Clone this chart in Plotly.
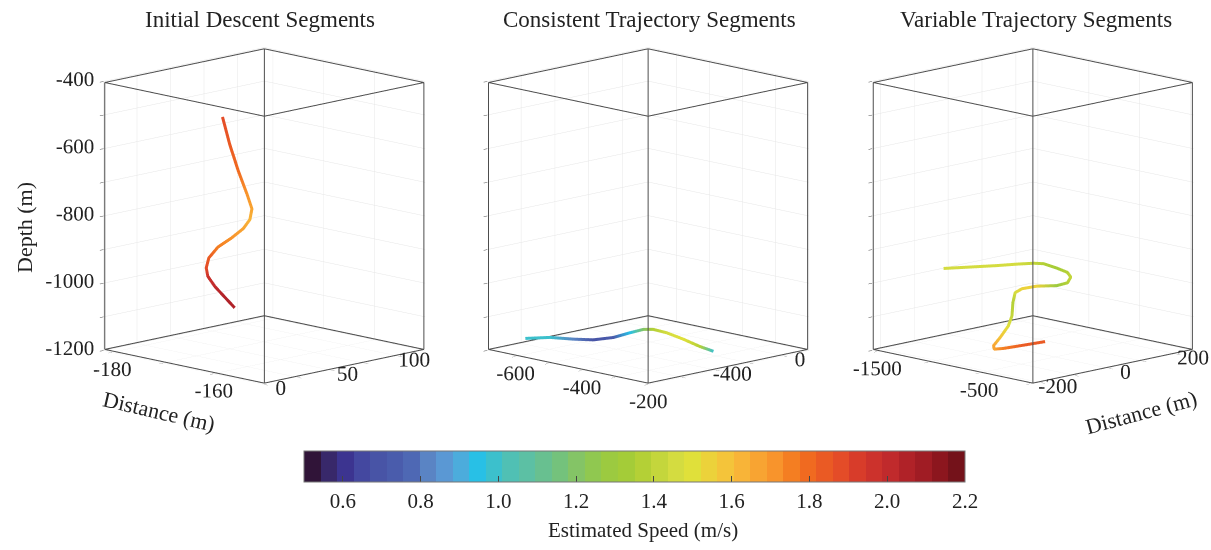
import plotly.graph_objects as go
import math

# ---------------- data ----------------
# Scene 1: Initial Descent Segments
s1_x = [-163.0, -161.6, -159.9, -158.2, -157.2, -157.6, -158.9, -161.2, -163.9, -165.7, -166.2, -165.9, -164.5, -162.6, -160.6]
s1_y = [18, 18, 18, 18, 18, 18, 18, 18, 18, 18, 18, 18, 18, 18, 18]
s1_z = [-461, -537, -611, -674, -716, -749, -780, -815, -851, -889, -920, -944, -970, -995, -1021]
s1_speed = [1.88, 1.85, 1.80, 1.72, 1.66, 1.64, 1.66, 1.70, 1.75, 1.82, 1.90, 1.97, 2.02, 2.05, 2.07]

# Scene 2: Consistent Trajectory Segments
s2_x = [-591, -542, -494, -457, -422, -397, -377, -362, -337, -305, -272, -247]
s2_y = [-759, -709, -664, -620, -570, -521, -481, -452, -422, -387, -352, -322]
s2_z = [-1149, -1141, -1141, -1140, -1131, -1117, -1107, -1107, -1115, -1131, -1150, -1162]
s2_speed = [1.00, 0.98, 0.82, 0.68, 0.75, 0.95, 1.20, 1.38, 1.45, 1.50, 1.35, 1.00]

# Scene 3: Variable Trajectory Segments
s3_x = [-1479, -1217, -956, -758, -596, -529, -446, -389, -356, -357, -430, -594, -725, -776, -798, -807, -826, -875, -878, -824, -827, -820, -821]
s3_y = [-35, -35, -35, -35, -35, -25.5, -11, 3, 3, -6.5, -16, -25.5, -30, -35, -35, -35, -40, -49, -68, -82.5, -54, 3, 67]
s3_z = [-992, -971, -950, -933, -920, -919, -930, -942, -954, -969, -980, -990, -1005, -1019, -1050, -1090, -1120, -1155, -1176, -1180, -1184, -1186, -1189]
s3_speed = [1.45, 1.46, 1.47, 1.45, 1.42, 1.38, 1.33, 1.35, 1.42, 1.38, 1.30, 1.52, 1.55, 1.45, 1.38, 1.42, 1.50, 1.58, 1.65, 1.67, 1.75, 1.82, 1.85]

# axis ranges and ticks
z_range = [-1200, -400]
z_ticks = [-1200, -1100, -1000, -900, -800, -700, -600, -500, -400]
z_text = ['-1200', '', '-1000', '', '-800', '', '-600', '', '-400']

s1_xrange = [-181.7, -150]
s1_xticks = [-180, -170, -160]
s1_xtext = ['-180', '', '-160']
s1_yrange = [0, 120]
s1_yticks = [0, 25, 50, 75, 100]
s1_ytext = ['0', '', '50', '', '100']

s2_xrange = [-685, -200]
s2_xticks = [-600, -500, -400, -300, -200]
s2_xtext = ['-600', '', '-400', '', '-200']
s2_yrange = [-800, 150]
s2_yticks = [-600, -400, -200, 0]
s2_ytext = ['', '-400', '', '0']

s3_xrange = [-1550, 30]
s3_xticks = [-1500, -1000, -500, 0]
s3_xtext = ['-1500', '', '-500', '']
s3_yrange = [-225, 250]
s3_yticks = [-200, -100, 0, 100, 200]
s3_ytext = ['-200', '', '0', '', '200']

titles = ['Initial Descent Segments', 'Consistent Trajectory Segments', 'Variable Trajectory Segments']

cb_ticks = [0.6, 0.8, 1.0, 1.2, 1.4, 1.6, 1.8, 2.0, 2.2]
cb_text = ['0.6', '0.8', '1.0', '1.2', '1.4', '1.6', '1.8', '2.0', '2.2']
cmin, cmax = 0.5, 2.2

band_colors = [
    '#301438', '#38286a', '#3c3490', '#4448a0', '#4854a6', '#4a5cac', '#4e68b4', '#5a84c4',
    '#5a98d4', '#4cacdc', '#28c0e6', '#3cc0cc', '#50c0b4', '#5cc0a4', '#68c090', '#74c27c',
    '#84c466', '#90c850', '#9cca40', '#a4cc38', '#b4d036', '#c4d63c', '#d4dc40', '#e0e03a',
    '#ecd23a', '#f4c43a', '#f8b438', '#f8a432', '#f8942c', '#f47e22', '#f06a20', '#ea5a24',
    '#e44c28', '#d83c2a', '#cc322c', '#c02a2c', '#b02228', '#a01c24', '#8c161e', '#74121a']

nb = len(band_colors)
colorscale = []
for i, c in enumerate(band_colors):
    colorscale.append([i / nb, c])
    colorscale.append([(i + 1) / nb, c])

FONT = 'Liberation Serif'
TXT = '#222222'
EDGE = '#4d4d4d'
GRID = '#e6e6e6'

W, H = 1211, 550

fig = go.Figure()

datasets = [(s1_x, s1_y, s1_z, s1_speed), (s2_x, s2_y, s2_z, s2_speed), (s3_x, s3_y, s3_z, s3_speed)]
ranges = [(s1_xrange, s1_yrange), (s2_xrange, s2_yrange), (s3_xrange, s3_yrange)]
xtick_sets = [(s1_xticks, s1_xtext), (s2_xticks, s2_xtext), (s3_xticks, s3_xtext)]
scene_names = ['scene', 'scene2', 'scene3']

# label anchor nudges, as fractions of the axis span
XLAB_RAISE = 0.041   # x tick labels: anchor raised from the floor
ZLAB_IN = 0.068      # z tick labels: anchor moved in along y


def box_edges(xr, yr, zr, eps=0.004):
    # box frame drawn a hair inside the axis limits so it sits in front of the grid
    def inset(r):
        d = (r[1] - r[0]) * eps
        return [r[0] + d, r[1] - d]
    xr, yr, zr = inset(xr), inset(yr), inset(zr)
    xs, ys, zs = [], [], []
    for a in xr:
        for b in yr:
            xs += [a, a, None]; ys += [b, b, None]; zs += [zr[0], zr[1], None]
    for zz in zr:
        for a in xr:
            xs += [a, a, None]; ys += [yr[0], yr[1], None]; zs += [zz, zz, None]
        for b in yr:
            xs += [xr[0], xr[1], None]; ys += [b, b, None]; zs += [zz, zz, None]
    return xs, ys, zs


zspan = z_range[1] - z_range[0]
for k, ((x, y, z, sp), (xr, yr)) in enumerate(zip(datasets, ranges)):
    bx, by, bz = box_edges(xr, yr, z_range)
    fig.add_trace(go.Scatter3d(x=bx, y=by, z=bz, mode='lines',
                               line=dict(color=EDGE, width=2),
                               scene=scene_names[k], showlegend=False, hoverinfo='skip'))
    # x tick labels along the front-left bottom edge
    tv, tt = xtick_sets[k]
    lab_x = [v for v, t in zip(tv, tt) if t]
    lab_t = [t for t in tt if t]
    fig.add_trace(go.Scatter3d(x=lab_x, y=[yr[0]] * len(lab_x),
                               z=[z_range[0] + XLAB_RAISE * zspan] * len(lab_x),
                               mode='text', text=lab_t, textposition='bottom center',
                               textfont=dict(family=FONT, size=21, color=TXT),
                               scene=scene_names[k], showlegend=False, hoverinfo='skip'))
    if k == 0:
        lab_z = [v for v, t in zip(z_ticks, z_text) if t]
        lab_zt = [t for t in z_text if t]
        fig.add_trace(go.Scatter3d(x=[xr[0]] * len(lab_z),
                                   y=[yr[0] + ZLAB_IN * (yr[1] - yr[0])] * len(lab_z),
                                   z=lab_z, mode='text', text=lab_zt, textposition='middle left',
                                   textfont=dict(family=FONT, size=21, color=TXT),
                                   scene=scene_names[k], showlegend=False, hoverinfo='skip'))
    line = dict(width=6, color=sp, colorscale=colorscale, cmin=cmin, cmax=cmax)
    if k == 0:
        line['showscale'] = True
        line['colorbar'] = dict(
            orientation='h', x=634.5 / W, xanchor='center', y=1 - 451 / H, yanchor='top',
            len=661 / W, lenmode='fraction', thickness=31, thicknessmode='pixels',
            xpad=0, ypad=0, outlinewidth=1, outlinecolor='#777777',
            tickvals=cb_ticks, ticktext=cb_text, ticks='inside', ticklen=6,
            tickcolor='#444444', tickwidth=1,
            tickfont=dict(family=FONT, size=21, color=TXT),
            title=dict(text=''))
    else:
        line['showscale'] = False
    fig.add_trace(go.Scatter3d(x=x, y=y, z=z, mode='lines', line=line,
                               scene=scene_names[k], showlegend=False, hoverinfo='skip'))

# camera geometry (orthographic, view from the (+x, -y) corner)
el = math.radians(12.2)
R = 1.935
dirv = (math.cos(el) / math.sqrt(2), -math.cos(el) / math.sqrt(2), math.sin(el))
right_v = (1 / math.sqrt(2), 1 / math.sqrt(2), 0.0)
up_v = (-math.sin(el) / math.sqrt(2), math.sin(el) / math.sqrt(2), math.cos(el))
S = 218.0  # px per scene unit (measured)
ZOOM = 1.034
domains_px = [[0, 456], [456, 822], [822, W]]
box_center_px = [264, 648, 1032.7]
domains = [[a / W, b / W] for a, b in domains_px]
shift_px = [(box_center_px[k] - sum(domains_px[k]) / 2, 4) for k in range(3)]


def axis(rng, tv, tt, labels=True, tl=5):
    return dict(range=rng, tickvals=tv, ticktext=tt, showticklabels=labels,
                ticks='outside', ticklen=tl, tickcolor=EDGE, tickwidth=1, tickangle=0,
                tickfont=dict(family=FONT, size=16, color=TXT),
                showgrid=True, gridcolor=GRID, gridwidth=1,
                showline=False, zeroline=False, showbackground=False,
                showspikes=False, title=dict(text=''), autorange=False)


axes_xy = [((s1_xrange, s1_xticks, s1_xtext), (s1_yrange, s1_yticks, s1_ytext)),
           ((s2_xrange, s2_xticks, s2_xtext), (s2_yrange, s2_yticks, s2_ytext)),
           ((s3_xrange, s3_xticks, s3_xtext), (s3_yrange, s3_yticks, s3_ytext))]

layout_scenes = {}
for k in range(3):
    (xa, ya) = axes_xy[k]
    dr, du = shift_px[k]
    c = [-(dr / S) * right_v[i] - (du / S) * up_v[i] for i in range(3)]
    layout_scenes[scene_names[k]] = dict(
        domain=dict(x=domains[k], y=[0.2, 1]),
        xaxis=axis(*xa, labels=False), yaxis=axis(*ya),
        zaxis=axis(z_range, z_ticks, z_text, labels=False),
        aspectmode='manual', aspectratio=dict(x=ZOOM, y=ZOOM, z=1.21 * ZOOM),
        bgcolor='white',
        camera=dict(projection=dict(type='orthographic'),
                    center=dict(x=c[0], y=c[1], z=c[2]),
                    eye=dict(x=c[0] + R * dirv[0], y=c[1] + R * dirv[1], z=c[2] + R * dirv[2]),
                    up=dict(x=0, y=0, z=1)),
    )

annotations = []
for t, cx in zip(titles, [259.5, 649, 1035.5]):
    annotations.append(dict(text=t, x=cx / W, y=1 - 19 / H, xref='paper', yref='paper',
                            xanchor='center', yanchor='middle',
                            showarrow=False, font=dict(family=FONT, size=23, color=TXT)))
annotations.append(dict(text='Depth (m)', x=24 / W, y=1 - 228 / H, xref='paper', yref='paper',
                        xanchor='center', yanchor='middle',
                        showarrow=False, textangle=-90, font=dict(family=FONT, size=22, color=TXT)))
annotations.append(dict(text='Distance (m)', x=159 / W, y=1 - 411 / H, xref='paper', yref='paper',
                        xanchor='center', yanchor='middle',
                        showarrow=False, textangle=13, font=dict(family=FONT, size=22, color=TXT)))
annotations.append(dict(text='Distance (m)', x=1141 / W, y=1 - 412 / H, xref='paper', yref='paper',
                        xanchor='center', yanchor='middle',
                        showarrow=False, textangle=-15, font=dict(family=FONT, size=22, color=TXT)))
annotations.append(dict(text='Estimated Speed (m/s)', x=643 / W, y=1 - 530 / H, xref='paper', yref='paper',
                        xanchor='center', yanchor='middle',
                        showarrow=False, font=dict(family=FONT, size=21, color=TXT)))

fig.update_layout(width=W, height=H, margin=dict(l=0, r=0, t=0, b=0, autoexpand=False),
                  paper_bgcolor='white', plot_bgcolor='white', hovermode=False,
                  annotations=annotations, **layout_scenes)

fig.write_html('out.html')
